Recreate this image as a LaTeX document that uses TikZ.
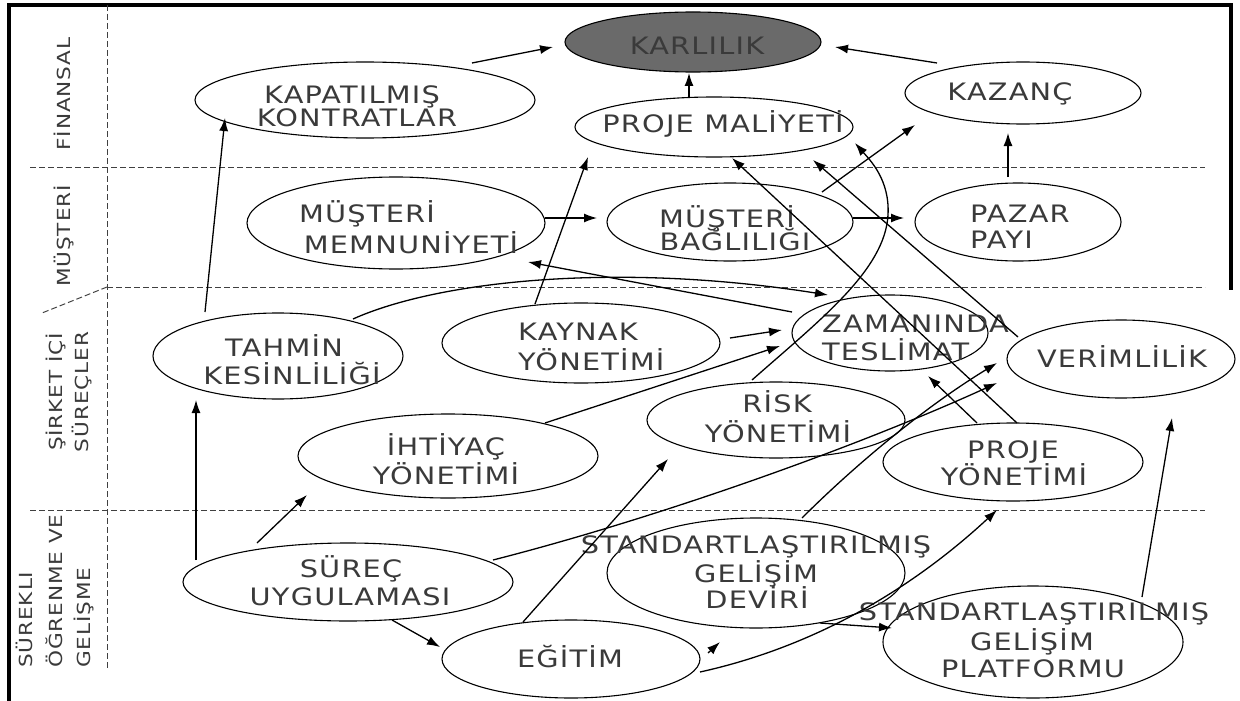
\documentclass[tikz,border=0pt]{standalone}
\usepackage{fontspec}
\setmainfont{DejaVu Sans}
\newfontfamily\lblfont[FakeStretch=1.2,LetterSpace=5]{DejaVu Sans}
\usetikzlibrary{shapes.geometric,arrows.meta}
\definecolor{txtgray}{HTML}{3A3A3A}
\definecolor{karfill}{HTML}{6A6A6A}
\begin{document}
\begin{tikzpicture}[x=1pt,y=-1pt,
  ell/.style={draw=black, line width=1.1pt, shape=ellipse, inner sep=0pt},
  txt/.style={text=txtgray, font=\lblfont\fontsize{24}{28}\selectfont, anchor=base, inner sep=0pt},
  side/.style={rotate=90, text=txtgray, font=\lblfont\fontsize{18}{22}\selectfont, anchor=base, inner sep=0pt},
  arr/.style={draw=black, line width=1.3pt, -{Latex[length=13pt,width=9pt]}},
  sep/.style={draw=black!75, line width=1pt, dash pattern=on 6pt off 3pt},
  frame/.style={draw=black, line width=4pt}]
\useasboundingbox (0,0) rectangle (1240,701);
% frame
\draw[frame] (9,701) -- (9,5) -- (1231,5) -- (1231,290);
% separators
\draw[sep] (107,5) -- (107,668);
\draw[sep] (30,167) -- (1205,167);
\draw[sep] (107,287) -- (1205,287);
\draw[sep] (107,287) -- (42,313);
\draw[sep] (30,510) -- (1205,510);
% side labels
\node[side] (finT) at (70,94) {FİNANSAL};
\node[side] (musT) at (70,236) {MÜŞTERİ};
\node[side] (sirT1) at (62,392) {ŞİRKET İÇİ};
\node[side] (sirT2) at (88,392) {SÜREÇLER};
\node[side, anchor=base west] (sgT1) at (32,668) {SÜREKLI};
\node[side, anchor=base west] (sgT2) at (62,668) {ÖĞRENME VE};
\node[side, anchor=base west] (sgT3) at (90,668) {GELİŞME};
% ellipses
\node[ell, fill=karfill, minimum width=256pt, minimum height=60pt] (kar) at (693,42) {};
\node[ell, minimum width=340pt, minimum height=76pt] (kap) at (365,100) {};
\node[ell, minimum width=278pt, minimum height=60pt] (pm) at (714,127) {};
\node[ell, minimum width=236pt, minimum height=62pt] (kaz) at (1023,93) {};
\node[ell, minimum width=298pt, minimum height=92pt] (mem) at (396,223) {};
\node[ell, minimum width=246pt, minimum height=78pt] (bag) at (730,222) {};
\node[ell, minimum width=206pt, minimum height=78pt] (paz) at (1018,222) {};
\node[ell, minimum width=250pt, minimum height=86pt] (tah) at (278,356) {};
\node[ell, minimum width=278pt, minimum height=80pt] (kay) at (581,343) {};
\node[ell, minimum width=196pt, minimum height=76pt] (zam) at (890,333) {};
\node[ell, minimum width=228pt, minimum height=78pt] (ver) at (1121,359) {};
\node[ell, minimum width=300pt, minimum height=84pt] (iht) at (448,456) {};
\node[ell, minimum width=258pt, minimum height=76pt] (risk) at (776,420) {};
\node[ell, minimum width=260pt, minimum height=78pt] (pyo) at (1013,462) {};
\node[ell, minimum width=330pt, minimum height=78pt] (sur) at (348,582) {};
\node[ell, minimum width=298pt, minimum height=110pt] (dev) at (756,573) {};
\node[ell, minimum width=258pt, minimum height=78pt] (egt) at (571,659) {};
\node[ell, minimum width=300pt, minimum height=112pt] (plt) at (1033,642) {};
% texts
\node[txt] (karT) at (697,55) {KARLILIK};
\node[txt] (kapT1) at (352,103) {KAPATILMIŞ};
\node[txt] (kapT2) at (357,126) {KONTRATLAR};
\node[txt] (pmT) at (723,132) {PROJE MALİYETİ};
\node[txt] (kazT) at (1010,100) {KAZANÇ};
\node[txt] (memT1) at (367,222) {MÜŞTERİ};
\node[txt] (memT2) at (411,253) {MEMNUNİYETİ};
\node[txt] (bagT1) at (727,227) {MÜŞTERİ};
\node[txt] (bagT2) at (735,250) {BAĞLILIĞI};
\node[txt, anchor=base west] (pazT1) at (970,222) {PAZAR};
\node[txt, anchor=base west] (pazT2) at (970,248) {PAYI};
\node[txt] (tahT1) at (284,356) {TAHMİN};
\node[txt] (tahT2) at (292,384) {KESİNLİLİĞİ};
\node[txt, anchor=base west] (kayT1) at (518,340) {KAYNAK};
\node[txt, anchor=base west] (kayT2) at (518,370) {YÖNETİMİ};
\node[txt, anchor=base west] (zamT1) at (822,332) {ZAMANINDA};
\node[txt, anchor=base west] (zamT2) at (822,360) {TESLİMAT};
\node[txt] (verT) at (1122,367) {VERİMLİLİK};
\node[txt] (ihtT1) at (446,455) {İHTİYAÇ};
\node[txt] (ihtT2) at (446,484) {YÖNETİMİ};
\node[txt] (riskT1) at (777,412) {RİSK};
\node[txt] (riskT2) at (778,442) {YÖNETİMİ};
\node[txt] (pyoT1) at (1013,458) {PROJE};
\node[txt] (pyoT2) at (1014,485) {YÖNETİMİ};
\node[txt] (surT1) at (351,577) {SÜREÇ};
\node[txt] (surT2) at (350,605) {UYGULAMASI};
\node[txt] (devT1) at (756,553) {STANDARTLAŞTIRILMIŞ};
\node[txt] (devT2) at (756,582) {GELİŞİM};
\node[txt] (devT3) at (757,608) {DEVİRİ};
\node[txt] (egtT) at (570,667) {EĞİTİM};
\node[txt] (pltT1) at (1034,620) {STANDARTLAŞTIRILMIŞ};
\node[txt] (pltT2) at (1032,650) {GELİŞİM};
\node[txt] (pltT3) at (1033,677) {PLATFORMU};
% connector end points
\coordinate (a1) at (472,63);   \coordinate (a2) at (553,47);
\coordinate (b1) at (689,98);   \coordinate (b2) at (689,73);
\coordinate (c1) at (937,63);   \coordinate (c2) at (835,47);
\coordinate (d1) at (1008,177); \coordinate (d2) at (1008,133);
\coordinate (e1) at (545,218);  \coordinate (e2) at (597,218);
\coordinate (f1) at (853,218);  \coordinate (f2) at (904,218);
\coordinate (g1) at (822,192);  \coordinate (g2) at (915,125);
\coordinate (h1) at (205,312);  \coordinate (h2) at (225,118);
\coordinate (i1) at (535,304);  \coordinate (i2) at (588,157);
\coordinate (j1) at (353,319);  \coordinate (j2) at (828,295);
\coordinate (k1) at (792,312);  \coordinate (k2) at (528,262);
\coordinate (l1) at (730,338);  \coordinate (l2) at (782,330);
\coordinate (m1) at (545,423);  \coordinate (m2) at (780,346);
\coordinate (n1) at (752,380);  \coordinate (n2) at (855,143);
\coordinate (o1) at (1018,337); \coordinate (o2) at (813,160);
\coordinate (p1) at (1017,423); \coordinate (p2) at (732,158);
\coordinate (q1) at (977,423);  \coordinate (q2) at (928,376);
\coordinate (r1) at (493,560);  \coordinate (r2) at (997,383);
\coordinate (s1) at (802,518);  \coordinate (s2) at (997,363);
\coordinate (t1) at (196,560);  \coordinate (t2) at (196,400);
\coordinate (u1) at (257,543);  \coordinate (u2) at (307,495);
\coordinate (v1) at (392,620);  \coordinate (v2) at (440,647);
\coordinate (w1) at (523,622);  \coordinate (w2) at (668,459);
\coordinate (x1) at (708,653);  \coordinate (x2) at (720,642);
\coordinate (y1) at (700,672);  \coordinate (y2) at (997,510);
\coordinate (z1) at (820,623);  \coordinate (z2) at (892,628);
\coordinate (aa1) at (1142,597); \coordinate (aa2) at (1172,418);
% connectors
\draw[arr] (a1) -- (a2);
\draw[arr] (b1) -- (b2);
\draw[arr] (c1) -- (c2);
\draw[arr] (d1) -- (d2);
\draw[arr] (e1) -- (e2);
\draw[arr] (f1) -- (f2);
\draw[arr] (g1) -- (g2);
\draw[arr] (h1) -- (h2);
\draw[arr] (i1) -- (i2);
\draw[arr] (j1) .. controls (440,280) and (620,262) .. (j2);
\draw[arr] (k1) -- (k2);
\draw[arr] (l1) -- (l2);
\draw[arr] (m1) -- (m2);
\draw[arr] (n1) .. controls (820,320) and (885,270) .. (888,215) .. controls (890,180) and (870,160) .. (n2);
\draw[arr] (o1) -- (o2);
\draw[arr] (p1) -- (p2);
\draw[arr] (q1) -- (q2);
\draw[arr] (r1) .. controls (650,520) and (850,450) .. (r2);
\draw[arr] (s1) .. controls (850,470) and (920,410) .. (s2);
\draw[arr] (t1) -- (t2);
\draw[arr] (u1) -- (u2);
\draw[arr] (v1) -- (v2);
\draw[arr] (w1) -- (w2);
\draw[arr] (x1) -- (x2);
\draw[arr] (y1) .. controls (800,650) and (900,600) .. (y2);
\draw[arr] (z1) -- (z2);
\draw[arr] (aa1) -- (aa2);
\end{tikzpicture}
\end{document}
